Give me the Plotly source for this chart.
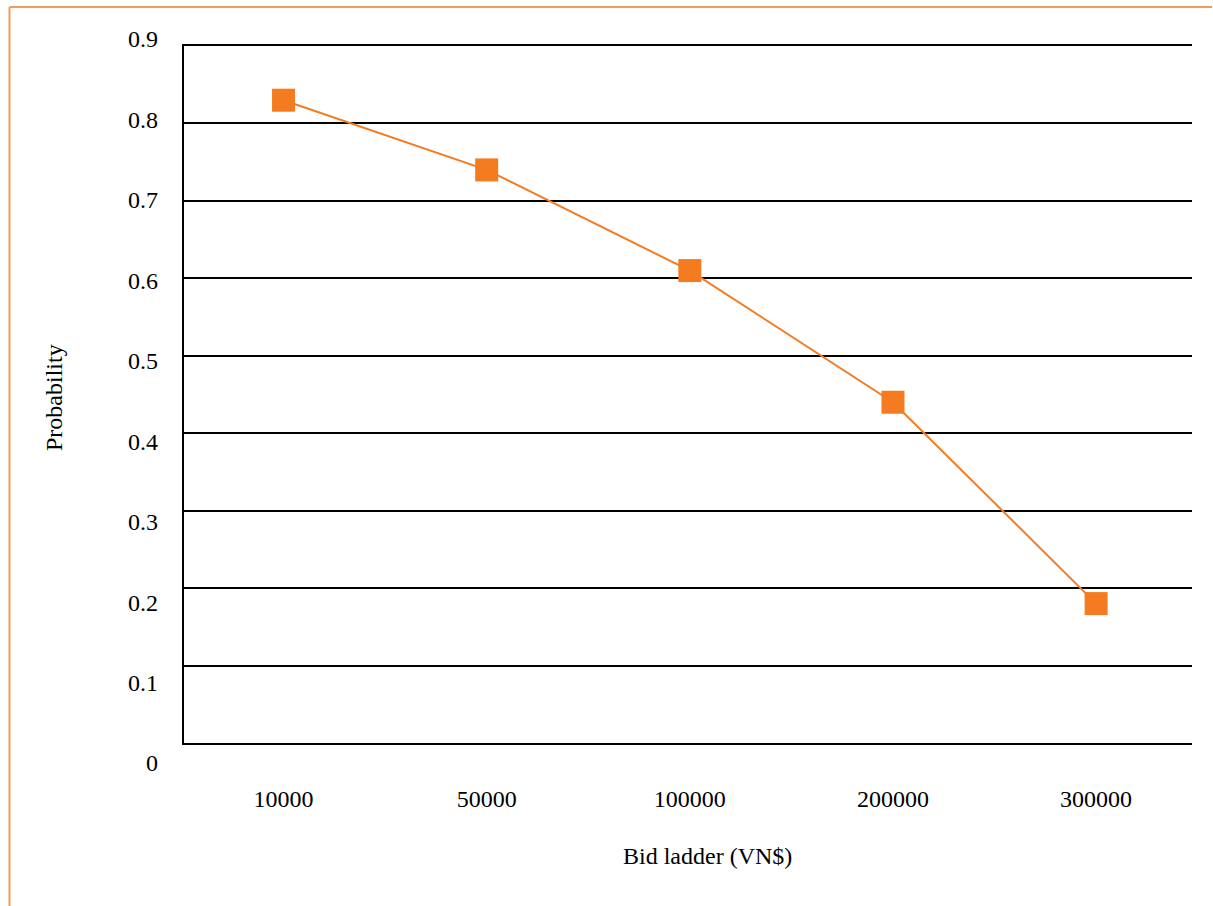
import plotly.graph_objects as go

# Bid ladder categories and the estimated acceptance probability at each bid
bids = ["10000", "50000", "100000", "200000", "300000"]
probability = [0.83, 0.74, 0.61, 0.44, 0.18]

# Value labels shown on the left-hand scale
y_ticks = [0, 0.1, 0.2, 0.3, 0.4, 0.5, 0.6, 0.7, 0.8, 0.9]
y_tick_text = ["0", "0.1", "0.2", "0.3", "0.4", "0.5", "0.6", "0.7", "0.8", "0.9"]

ORANGE = "#F47B20"
FRAME = "#F39A58"
FONT = "Liberation Serif"
FS = 24
GRID = "#000000"

W, H = 1213, 906
L, R, T, B = 184, 21, 39, 143
plot_h = H - T - B


def px_y(py):
    return (H - B - py) / plot_h


def px_x(px):
    return (px - L) / (W - L - R)


fig = go.Figure()

# label scale on a second, free-standing axis (drawn first so it sits underneath)
fig.add_trace(go.Scatter(x=[], y=[], xaxis="x2", yaxis="y2",
                         showlegend=False, hoverinfo="skip"))

fig.add_trace(go.Scatter(
    x=bids, y=probability,
    mode="lines+markers",
    line=dict(color=ORANGE, width=2),
    marker=dict(symbol="square", size=23, color=ORANGE),
    showlegend=False,
    cliponaxis=False,
))

fig.update_layout(
    width=W, height=H, autosize=False,
    margin=dict(l=L, r=R, t=T, b=B, pad=0),
    paper_bgcolor="white", plot_bgcolor="rgba(0,0,0,0)",
    font=dict(family=FONT, size=FS, color="black"),
    xaxis=dict(
        type="category",
        range=[-0.49, 4.472],
        showgrid=False, zeroline=False,
        showline=True, mirror=True, linecolor=GRID, linewidth=1.5,
        ticks="", ticklabelstandoff=33,
        tickfont=dict(family=FONT, size=FS, color="black"),
    ),
    yaxis=dict(
        domain=[px_y(743), px_y(46)],
        range=[0, 0.9],
        tickvals=y_ticks,
        showticklabels=False,
        showgrid=True, gridcolor=GRID, gridwidth=1.5,
        zeroline=False,
        showline=True, linecolor=GRID, linewidth=1.5,
        ticks="",
    ),
    xaxis2=dict(
        anchor="y2", range=[0, 1], visible=False,
    ),
    yaxis2=dict(
        domain=[0, 1],
        range=[0, 0.9],
        anchor="free", position=0, side="left",
        tickvals=y_ticks, ticktext=y_tick_text,
        showgrid=False, zeroline=False, showline=False,
        ticks="", ticklabelstandoff=26,
        tickfont=dict(family=FONT, size=FS, color="black"),
    ),
    annotations=[
        dict(text="Bid ladder (VN$)", xref="paper", yref="paper",
             x=px_x(707), y=px_y(856), xanchor="center", yanchor="middle",
             showarrow=False, font=dict(family=FONT, size=FS, color="black")),
        dict(text="Probability", xref="paper", yref="paper",
             x=px_x(54), y=px_y(398), xanchor="center", yanchor="middle",
             textangle=-90, showarrow=False,
             font=dict(family=FONT, size=FS, color="black")),
    ],
    shapes=[
        dict(type="line", xref="paper", yref="paper",
             x0=px_x(9.5), x1=px_x(1212), y0=px_y(7), y1=px_y(7),
             line=dict(color=FRAME, width=2)),
        dict(type="line", xref="paper", yref="paper",
             x0=px_x(9.5), x1=px_x(9.5), y0=px_y(7), y1=px_y(930),
             line=dict(color=FRAME, width=2)),
    ],
)

fig.write_html("out.html")
